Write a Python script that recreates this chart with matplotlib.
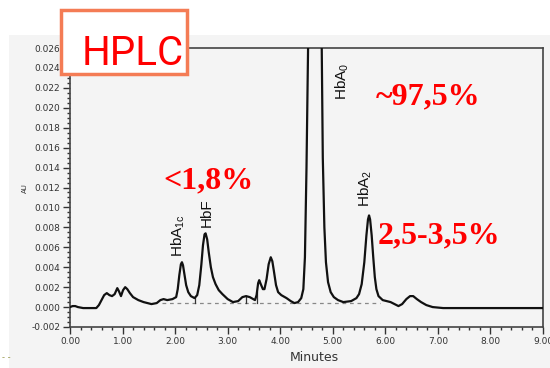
import matplotlib
matplotlib.use("Agg")
import matplotlib.pyplot as plt
from matplotlib.patches import Rectangle
from matplotlib.ticker import MultipleLocator, FormatStrFormatter

# ---- data ----
minutes = [0.00, 0.05, 0.10, 0.15, 0.25, 0.40, 0.50, 0.55, 0.60, 0.65, 0.70, 0.75,
           0.80, 0.85, 0.90, 0.93, 0.97, 1.01, 1.05, 1.09, 1.14, 1.20, 1.30, 1.40,
           1.55, 1.65, 1.72, 1.78, 1.85, 1.95, 2.02, 2.05, 2.08, 2.11, 2.13, 2.15,
           2.18, 2.21, 2.25, 2.30, 2.37, 2.42, 2.46, 2.50, 2.53, 2.56, 2.58, 2.61,
           2.64, 2.68, 2.72, 2.77, 2.83, 2.90, 3.00, 3.10, 3.20, 3.28, 3.35, 3.42,
           3.52, 3.55, 3.58, 3.60, 3.63, 3.67, 3.70, 3.74, 3.78, 3.82, 3.85, 3.88,
           3.92, 3.96, 4.02, 4.12, 4.20, 4.27, 4.34, 4.40, 4.44, 4.47, 4.50, 4.53,
           4.57, 4.66, 4.75, 4.79, 4.81, 4.84, 4.87, 4.91, 4.96, 5.02, 5.10, 5.20,
           5.35, 5.45, 5.50, 5.55, 5.60, 5.64, 5.67, 5.69, 5.71, 5.74, 5.77, 5.80,
           5.83, 5.87, 5.95, 6.10, 6.25, 6.32, 6.40, 6.47, 6.53, 6.60, 6.68, 6.78,
           6.90, 7.10, 7.50, 8.00, 8.50, 9.00]
absorbance = [0.0000, 0.0001, 0.0001, 0.0000, -0.0001, -0.0001, -0.0001, 0.0002, 0.0007, 0.0012, 0.0014, 0.0012,
              0.0011, 0.0013, 0.0019, 0.0016, 0.0011, 0.0017, 0.0020, 0.0018, 0.0014, 0.0010, 0.0007, 0.0005,
              0.0003, 0.0004, 0.0007, 0.0008, 0.0007, 0.0008, 0.0010, 0.0018, 0.0032, 0.0043, 0.0045, 0.0042,
              0.0032, 0.0022, 0.0015, 0.0011, 0.0009, 0.0012, 0.0022, 0.0043, 0.0062, 0.0073, 0.0074, 0.0068,
              0.0055, 0.0040, 0.0030, 0.0023, 0.0017, 0.0013, 0.0008, 0.0005, 0.0006, 0.0010, 0.0011, 0.0010,
              0.0007, 0.0012, 0.0024, 0.0027, 0.0023, 0.0018, 0.0018, 0.0028, 0.0043, 0.0050, 0.0046, 0.0036,
              0.0022, 0.0015, 0.0012, 0.0009, 0.0006, 0.0004, 0.0005, 0.0009, 0.0018, 0.0050, 0.0140, 0.0260,
              0.0500, 0.1000, 0.0500, 0.0260, 0.0150, 0.0080, 0.0045, 0.0025, 0.0015, 0.0010, 0.0007, 0.0005,
              0.0006, 0.0009, 0.0013, 0.0023, 0.0045, 0.0072, 0.0088, 0.0092, 0.0088, 0.0072, 0.0050, 0.0030,
              0.0018, 0.0011, 0.0007, 0.0005, 0.0001, 0.0003, 0.0008, 0.0011, 0.0011, 0.0008, 0.0005, 0.0002,
              0.0000, -0.0001, -0.0001, -0.0001, -0.0001, -0.0001]

baseline_span = [1.75, 5.90]
baseline_level = 0.0004
marker_x = [2.37, 3.35, 3.56]
marker_top = [0.0009, 0.0011, 0.0015]

peak_labels = [r"HbA$\mathregular{_{1c}}$", "HbF", r"HbA$\mathregular{_0}$", r"HbA$\mathregular{_2}$"]
peak_label_x = [2.07, 2.61, 5.18, 5.61]
peak_label_y = [0.0050, 0.0080, 0.0208, 0.0100]

pct_texts = ["<1,8%", "~97,5%", "2,5-3,5%"]
pct_x = [1.77, 5.82, 5.86]
pct_y = [0.0119, 0.0203, 0.0064]

x_ticks = [0, 1, 2, 3, 4, 5, 6, 7, 8, 9]
y_ticks = [-0.002, 0.000, 0.002, 0.004, 0.006, 0.008, 0.010, 0.012, 0.014,
           0.016, 0.018, 0.020, 0.022, 0.024, 0.026]

# ---- figure ----
W, H = 550, 368
fig = plt.figure(figsize=(W / 100, H / 100), dpi=100)
fig.patch.set_facecolor("white")
panel_color = "#f4f4f4"
fig.add_artist(Rectangle((9 / W, 0), 1 - 9 / W, 1 - 35 / H, transform=fig.transFigure,
                         facecolor=panel_color, edgecolor="none", zorder=0))

ax = fig.add_axes([70 / W, 41 / H, 473 / W, 279 / H])
ax.set_facecolor(panel_color)
ax.set_xlim(0, 9)
ax.set_ylim(-0.002, 0.026)

ax.plot(minutes, absorbance, color="#111111", lw=1.6, zorder=3,
        solid_joinstyle="round")
ax.plot(baseline_span, [baseline_level, baseline_level], color="#888888", lw=0.9,
        ls=(0, (3, 3)), zorder=2)
for mx, mt in zip(marker_x, marker_top):
    ax.plot([mx, mx], [baseline_level, mt], color="#333333", lw=0.9, zorder=2)

for lab, lx, ly in zip(peak_labels, peak_label_x, peak_label_y):
    ax.text(lx, ly, lab, rotation=90, ha="center", va="bottom", fontsize=11,
            family="Liberation Sans", color="#111111", zorder=4)

for t, tx, ty in zip(pct_texts, pct_x, pct_y):
    ax.text(tx, ty, t, ha="left", va="baseline", fontsize=23, fontweight="bold",
            family="Liberation Serif", color="#ff0000", zorder=5)

ax.set_xticks(x_ticks)
ax.set_yticks(y_ticks)
ax.xaxis.set_major_formatter(FormatStrFormatter("%.2f"))
ax.yaxis.set_major_formatter(FormatStrFormatter("%.3f"))
ax.xaxis.set_minor_locator(MultipleLocator(0.2))
ax.yaxis.set_minor_locator(MultipleLocator(0.0005))
ax.tick_params(which="major", direction="out", length=5, width=1, color="#333333",
               labelsize=6.5, labelcolor="#333333", pad=2)
ax.tick_params(which="minor", direction="out", length=2.5, width=1, color="#333333")
ax.tick_params(top=False, right=False, which="both")
for s in ax.spines.values():
    s.set_color("#444444")
    s.set_linewidth(1.2)

ax.set_xlabel("Minutes", fontsize=9, color="#333333")
ax.xaxis.set_label_coords(0.516, -0.108)
ax.xaxis.label.set_va("center")
ax.set_ylabel("AU", fontsize=5, color="#333333")
ax.yaxis.set_label_coords(-0.095, 0.498)
ax.yaxis.label.set_va("center")

# HPLC title box
fig.add_artist(Rectangle((61 / W, 1 - 74 / H), 126 / W, 64 / H, transform=fig.transFigure,
                         facecolor="white", edgecolor="#f47c55", lw=2.5, zorder=10))
fig.text(82 / W, 1 - 65 / H, "HPLC", fontsize=29, family="Roboto", color="#ff0000",
         ha="left", va="baseline", zorder=11)

fig.text(2 / W, 1 - 357 / H, "- -", fontsize=6, color="#9a9a50", ha="left", va="center")

fig.savefig("out.png", dpi=100)
